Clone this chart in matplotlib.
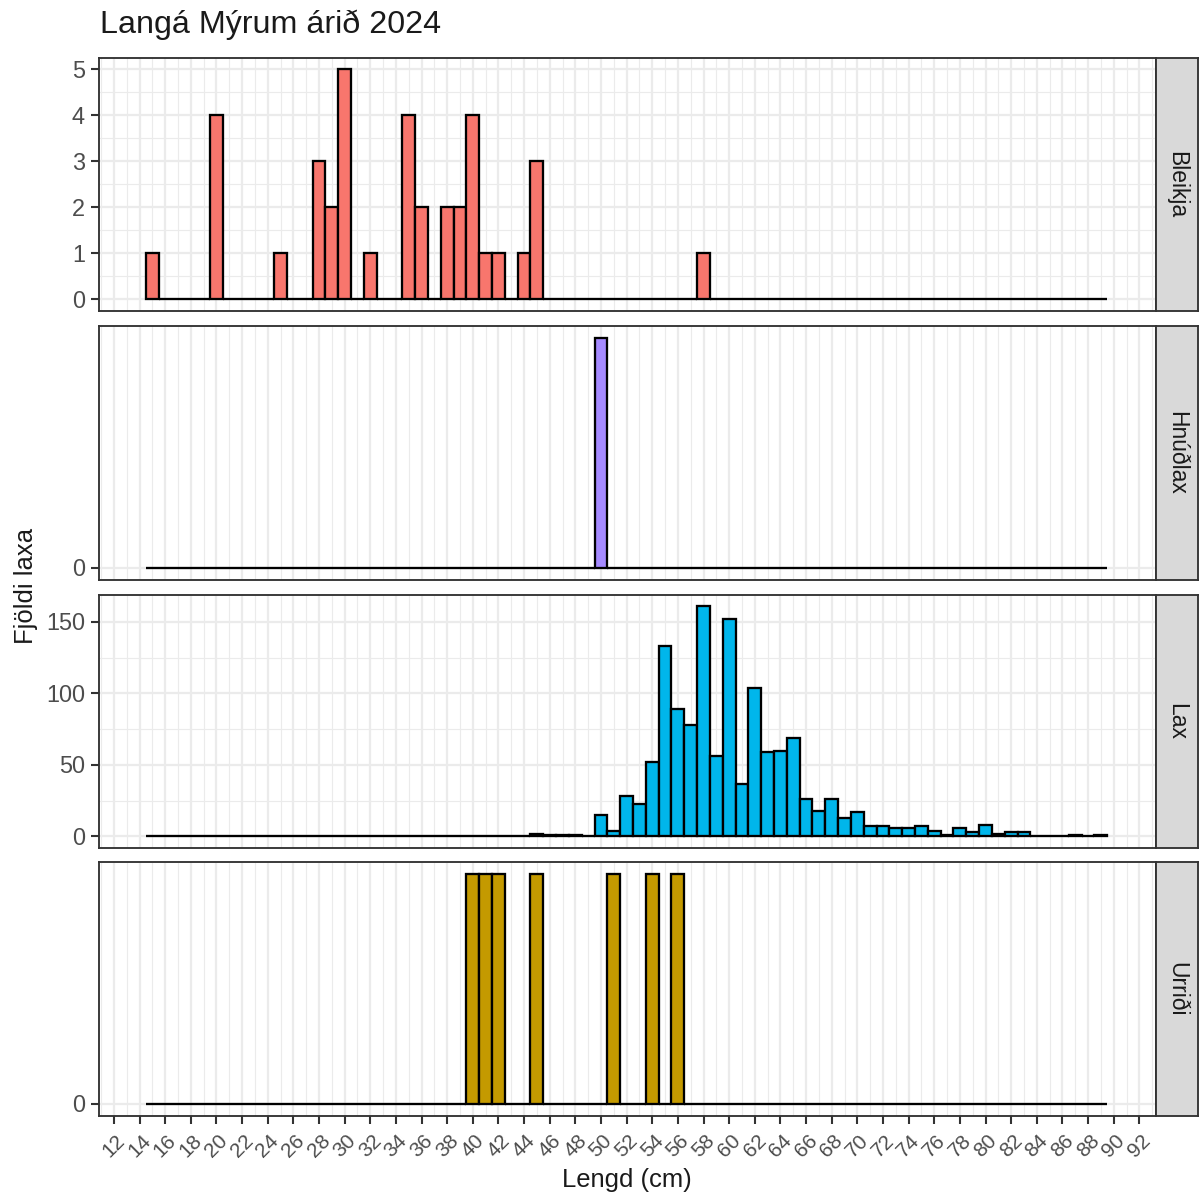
import numpy as np
import matplotlib
matplotlib.use("Agg")
import matplotlib.pyplot as plt
from matplotlib.ticker import MultipleLocator, FixedLocator, NullLocator

plt.rcParams['font.family'] = ['Liberation Sans', 'DejaVu Sans']

# ---------- gogn (lengd i cm -> fjoldi) ----------
bins = np.arange(15, 90)  # midjur bila, 14.5 - 89.5

species = ["Bleikja", "Hnúðlax", "Lax", "Urriði"]
colors = ["#F8766D", "#A58AFF", "#00B6EB", "#C49A00"]

bleikja_len = [15, 20, 25, 28, 29, 30, 32, 35, 36, 38, 39, 40, 41, 42, 44, 45, 58]
bleikja_n = [1, 4, 1, 3, 2, 5, 1, 4, 2, 2, 2, 4, 1, 1, 1, 3, 1]

hnudlax_len = [50]
hnudlax_n = [1]

lax_len = [45, 46, 47, 48, 50, 51, 52, 53, 54, 55, 56, 57, 58, 59, 60, 61, 62,
           63, 64, 65, 66, 67, 68, 69, 70, 71, 72, 73, 74, 75, 76, 77, 78, 79,
           80, 81, 82, 83, 87, 89]
lax_n = [2, 1, 1, 1, 15, 4, 28, 23, 52, 133, 89, 78, 161, 56, 152, 37, 104,
         59, 60, 69, 26, 18, 26, 13, 17, 7, 7, 6, 6, 7, 4, 1, 6, 3,
         8, 2, 3, 3, 1, 1]

urridi_len = [40, 41, 42, 45, 51, 54, 56]
urridi_n = [1, 1, 1, 1, 1, 1, 1]

lengths = [bleikja_len, hnudlax_len, lax_len, urridi_len]
counts = [bleikja_n, hnudlax_n, lax_n, urridi_n]

# y-as: brot og aukabrot fyrir hvern flokk
y_major = [[0, 1, 2, 3, 4, 5], [0], [0, 50, 100, 150], [0]]
y_minor = [[0.5, 1.5, 2.5, 3.5, 4.5], [], [25, 75, 125], []]

# ---------- uppsetning ----------
W, H = 1201, 1198
DPI = 150
fig = plt.figure(figsize=(W / DPI, H / DPI), dpi=DPI)
fig.patch.set_facecolor("white")

left, right = 98.5, 1156.0
strip_w = 42.0
tops = [57.5, 326.0, 594.5, 862.0]
ph = 253.5

grid_col = "#EBEBEB"
border_col = "#333333"
text_col = "#4D4D4D"

def px(x0, y0, w, h):
    return [x0 / W, 1 - (y0 + h) / H, w / W, h / H]

for i, sp in enumerate(species):
    ax = fig.add_axes(px(left, tops[i], right - left, ph))
    full = np.zeros(len(bins))
    for l, n in zip(lengths[i], counts[i]):
        full[l - 15] = n
    ax.bar(bins, full, width=1.0, color=colors[i], edgecolor="black",
           linewidth=1.1, zorder=3)

    ymax = max(counts[i])
    ax.set_ylim(-0.05 * ymax, 1.05 * ymax)
    ax.set_xlim(10.8, 93.3)

    ax.xaxis.set_major_locator(MultipleLocator(2))
    ax.xaxis.set_minor_locator(FixedLocator(np.arange(11, 94, 2)))
    ax.yaxis.set_major_locator(FixedLocator(y_major[i]))
    if y_minor[i]:
        ax.yaxis.set_minor_locator(FixedLocator(y_minor[i]))
    else:
        ax.yaxis.set_minor_locator(NullLocator())

    ax.grid(which="major", color=grid_col, linewidth=1.07, zorder=0)
    ax.grid(which="minor", color=grid_col, linewidth=0.55, zorder=0)
    ax.set_axisbelow(True)

    for s in ax.spines.values():
        s.set_color(border_col)
        s.set_linewidth(0.9)

    ax.tick_params(axis="y", which="major", direction="out", length=4,
                   width=1.0, color=border_col, labelsize=11.3,
                   labelcolor=text_col, pad=2.5)
    ax.tick_params(which="minor", length=0)
    ax.set_yticklabels([str(v) for v in y_major[i]])

    if i == len(species) - 1:
        ax.tick_params(axis="x", which="major", direction="out", length=4,
                       width=1.0, color=border_col, labelsize=10,
                       labelcolor=text_col, pad=3.5)
        for lab in ax.get_xticklabels():
            lab.set_rotation(45)
            lab.set_ha("center")
            lab.set_va("top")
    else:
        ax.tick_params(axis="x", which="major", length=0, labelbottom=False)

    # strimill til haegri
    sax = fig.add_axes(px(right, tops[i], strip_w, ph))
    sax.set_facecolor("#D9D9D9")
    sax.set_xticks([])
    sax.set_yticks([])
    for s in sax.spines.values():
        s.set_color(border_col)
        s.set_linewidth(0.9)
    sax.text(0.5, 0.5, sp, rotation=270, ha="center", va="center",
             fontsize=11, color="#1A1A1A", transform=sax.transAxes)

fig.text(100 / W, 1 - 33.5 / H, "Langá Mýrum árið 2024", fontsize=15.5,
         color="#1A1A1A", ha="left", va="baseline")
fig.text((left + right) / 2 / W, 1 - 1187 / H, "Lengd (cm)", fontsize=12.3,
         color="#1A1A1A", ha="center", va="baseline")
fig.text(26 / W, 1 - 586 / H, "Fjöldi laxa", fontsize=12.3, color="#1A1A1A",
         rotation=90, ha="center", va="center")

fig.savefig("out.png", dpi=DPI)
